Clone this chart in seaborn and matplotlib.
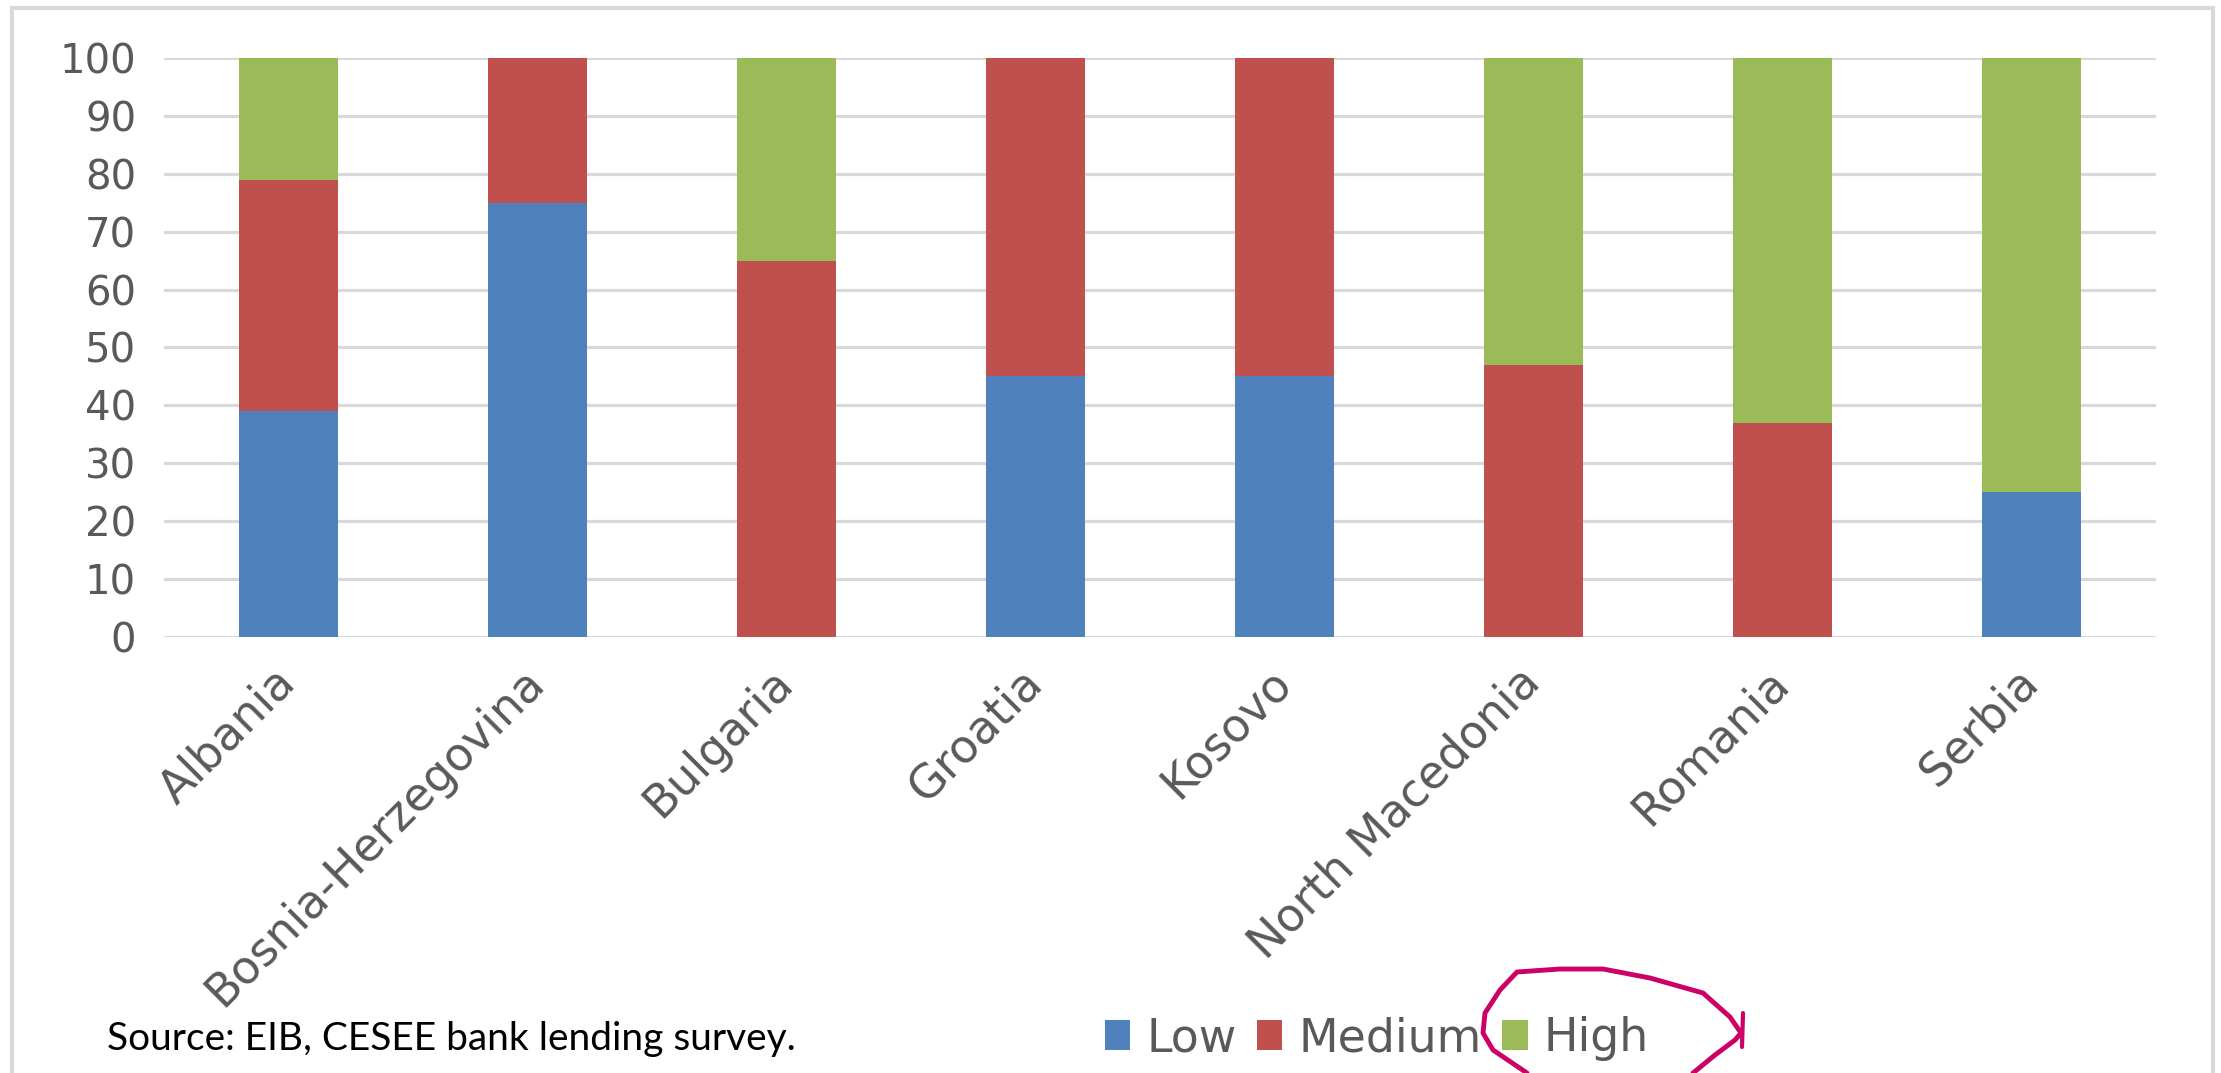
import numpy as np
import pandas as pd
import matplotlib
matplotlib.use("Agg")
import matplotlib.pyplot as plt
import matplotlib.transforms as mtransforms
from matplotlib.patches import Patch, Rectangle
from matplotlib.lines import Line2D
import seaborn as sns

# Data (share of banks, %)
countries = ["Albania", "Bosnia-Herzegovina", "Bulgaria", "Groatia", "Kosovo",
             "North Macedonia", "Romania", "Serbia"]
low = [39, 75, 0, 45, 45, 0, 0, 25]
medium = [40, 25, 65, 55, 55, 47, 37, 0]
high = [21, 0, 35, 0, 0, 53, 63, 75]

colors = {"Low": "#4F81BD", "Medium": "#C0504D", "High": "#9BBB59"}
text_grey = "#595959"

df = pd.DataFrame({"country": countries, "Low": low, "Medium": medium, "High": high})
df["cum_low"] = df["Low"]
df["cum_med"] = df["Low"] + df["Medium"]
df["cum_high"] = df["cum_med"] + df["High"]

sns.set_style("white")
plt.rcParams["font.family"] = ["DejaVu Sans"]

fig = plt.figure(figsize=(22.21, 10.73), dpi=100)
ax = fig.add_axes([0.0738, 0.4063, 0.897, 0.5397])

# stacked bars drawn as overlaid cumulative totals
for col, name in [("cum_high", "High"), ("cum_med", "Medium"), ("cum_low", "Low")]:
    sns.barplot(data=df, x="country", y=col, color=colors[name], width=0.4,
                saturation=1, ax=ax, zorder=3, edgecolor="none")

ax.set_xlim(-0.5, len(countries) - 0.5)
ax.set_ylim(0, 100)
ax.set_yticks(range(0, 101, 10))
ax.yaxis.grid(True, color="#D9D9D9", linewidth=2.3, zorder=0)
ax.set_axisbelow(True)
for s in ax.spines.values():
    s.set_visible(False)
ax.set_xlabel("")
ax.set_ylabel("")
ax.tick_params(axis="y", length=0, pad=20, labelsize=29, labelcolor=text_grey)
ax.tick_params(axis="x", length=0, labelsize=33, labelcolor=text_grey)
ax.set_xticks(range(len(countries)))
ax.set_xticklabels(countries, rotation=45, ha="right", va="top", rotation_mode="anchor")
offset = mtransforms.ScaledTranslation(-0.16, -0.18, fig.dpi_scale_trans)
for lab in ax.get_xticklabels():
    lab.set_transform(lab.get_transform() + offset)

# legend
handles = [Patch(facecolor=colors[k], edgecolor="none", label=k) for k in ["Low", "Medium", "High"]]
fig.legend(handles=handles, loc="center", bbox_to_anchor=(0.62, 0.032), ncol=3, frameon=False,
           fontsize=33, labelcolor=text_grey, handlelength=0.55, handleheight=0.6,
           handletextpad=0.35, columnspacing=0.45)

fig.text(0.048, 0.032, "Source: EIB, CESEE bank lending survey.", family=["Lato", "DejaVu Sans"],
         fontsize=28, color="black", va="center", ha="left")

# outer frame
fig.patches.append(Rectangle((0.0055, -0.02), 0.991, 1.013, transform=fig.transFigure,
                             fill=False, edgecolor="#D9D9D9", linewidth=3))

# hand-drawn highlight around "High"
pen = "#CC0066"
px = np.array([1693, 1715, 1735, 1741, 1730, 1703, 1650, 1603, 1560, 1517, 1500, 1485, 1483, 1493, 1527])
py = np.array([1073, 1055, 1040, 1033, 1017, 993, 978, 969, 969, 972, 990, 1013, 1033, 1050, 1073])
fig.add_artist(Line2D(px / 2221, 1 - py / 1073, color=pen, linewidth=3.5,
                      solid_capstyle="round", transform=fig.transFigure))
fig.add_artist(Line2D(np.array([1743, 1742]) / 2221, 1 - np.array([1013, 1047]) / 1073,
                      color=pen, linewidth=3, solid_capstyle="round", transform=fig.transFigure))

fig.savefig("out.png", dpi=100)
